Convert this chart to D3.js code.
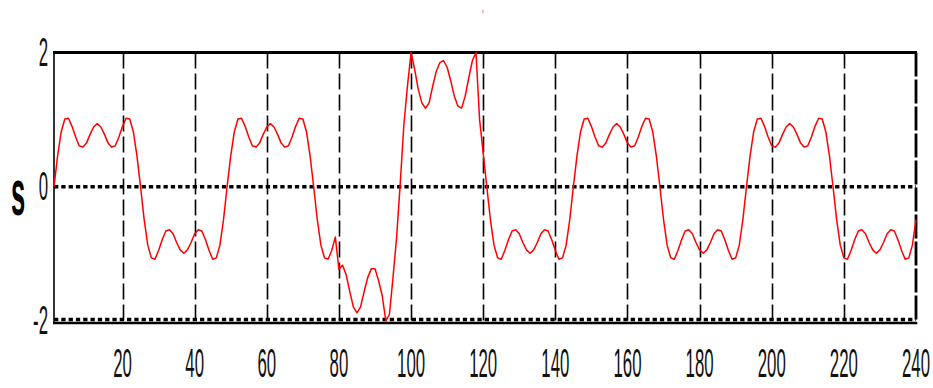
<!DOCTYPE html>
<html>
<head>
<meta charset="utf-8">
<script src="https://cdn.jsdelivr.net/npm/d3@7"></script>
<style>
  html, body { margin: 0; padding: 0; background: #ffffff; }
  svg { display: block; }
</style>
</head>
<body>
<svg id="chart" width="933" height="388"></svg>
<script>
// ---- data ----
const sVals = [
  // t = 1..24
  0, 0.46, 0.82, 1.01, 1.02, 0.90, 0.74, 0.61, 0.59, 0.65, 0.78, 0.89, 0.94, 0.89, 0.78, 0.65, 0.59, 0.61, 0.74, 0.90, 1.02, 1.01, 0.82, 0.46,
  // t = 25..48
  0, -0.49, -0.87, -1.06, -1.08, -0.95, -0.79, -0.66, -0.64, -0.70, -0.83, -0.94, -0.99, -0.94, -0.83, -0.70, -0.64, -0.66, -0.79, -0.95, -1.08, -1.06, -0.87, -0.49,
  // t = 49..72
  0, 0.46, 0.82, 1.01, 1.02, 0.90, 0.74, 0.61, 0.59, 0.65, 0.78, 0.89, 0.94, 0.89, 0.78, 0.65, 0.59, 0.61, 0.74, 0.90, 1.02, 1.01, 0.82, 0.46,
  // t = 73..96
  0, -0.49, -0.87, -1.06, -1.08, -0.95, -0.75, -1.23, -1.17, -1.31, -1.56, -1.79, -1.88, -1.79, -1.56, -1.35, -1.22, -1.22, -1.40, -1.62, -2.00, -1.90, -1.35, -0.75,
  // t = 97..120
  0.05, 0.92, 1.50, 2.00, 1.75, 1.45, 1.25, 1.17, 1.25, 1.50, 1.72, 1.85, 1.88, 1.78, 1.58, 1.35, 1.20, 1.17, 1.35, 1.62, 1.88, 2.00, 1.00, 0.50,
  // t = 121..144
  0, -0.49, -0.87, -1.06, -1.08, -0.95, -0.79, -0.66, -0.64, -0.70, -0.83, -0.94, -0.99, -0.94, -0.83, -0.70, -0.64, -0.66, -0.79, -0.95, -1.08, -1.06, -0.87, -0.49,
  // t = 145..168
  0, 0.46, 0.82, 1.01, 1.02, 0.90, 0.74, 0.61, 0.59, 0.65, 0.78, 0.89, 0.94, 0.89, 0.78, 0.65, 0.59, 0.61, 0.74, 0.90, 1.02, 1.01, 0.82, 0.46,
  // t = 169..192
  0, -0.49, -0.87, -1.06, -1.08, -0.95, -0.79, -0.66, -0.64, -0.70, -0.83, -0.94, -0.99, -0.94, -0.83, -0.70, -0.64, -0.66, -0.79, -0.95, -1.08, -1.06, -0.87, -0.49,
  // t = 193..216
  0, 0.46, 0.82, 1.01, 1.02, 0.90, 0.74, 0.61, 0.59, 0.65, 0.78, 0.89, 0.94, 0.89, 0.78, 0.65, 0.59, 0.61, 0.74, 0.90, 1.02, 1.01, 0.82, 0.46,
  // t = 217..240
  0, -0.49, -0.87, -1.06, -1.08, -0.95, -0.79, -0.66, -0.64, -0.70, -0.83, -0.94, -0.99, -0.94, -0.83, -0.70, -0.64, -0.66, -0.79, -0.95, -1.08, -1.06, -0.87, -0.49
];
const xDomain = [1, 240];
const yDomain = [-2, 2];
const xTickVals = [20, 40, 60, 80, 100, 120, 140, 160, 180, 200, 220, 240];
const yTickVals = [-2, 0, 2];
const yLabel = "s";
const titleText = "'";

// ---- drawing ----
const svg = d3.select("#chart");
const x = d3.scaleLinear().domain(xDomain).range([54, 916]);
const y = d3.scaleLinear().domain(yDomain).range([321, 52.5]);

const points = sVals.map((v, i) => ({ t: i + 1, s: v }));

// vertical dashed grid lines
svg.append("g").selectAll("line")
  .data(xTickVals.filter(v => v < xDomain[1]))
  .join("line")
  .attr("x1", d => Math.round(x(d)) + 0.5).attr("x2", d => Math.round(x(d)) + 0.5)
  .attr("y1", y(2)).attr("y2", y(-2))
  .attr("stroke", "#000").attr("stroke-width", 1.6)
  .attr("stroke-dasharray", "16,5");

// horizontal dotted grid line at 0 and -2
svg.append("g").selectAll("line")
  .data([0, -2])
  .join("line")
  .attr("x1", x(1)).attr("x2", x(240))
  .attr("y1", d => y(d) - (d === -2 ? 1.5 : 0)).attr("y2", d => y(d) - (d === -2 ? 1.5 : 0))
  .attr("stroke", "#000").attr("stroke-width", 3.5)
  .attr("stroke-dasharray", "4.3,3");

// frame
svg.append("line").attr("x1", x(1) - 1).attr("x2", x(240) + 1).attr("y1", y(2)).attr("y2", y(2))
  .attr("stroke", "#000").attr("stroke-width", 3.2);
svg.append("line").attr("x1", x(1) - 1).attr("x2", x(240) + 1).attr("y1", y(-2) + 2).attr("y2", y(-2) + 2)
  .attr("stroke", "#000").attr("stroke-width", 2.6);
svg.append("line").attr("x1", x(1)).attr("x2", x(1)).attr("y1", y(2)).attr("y2", y(-2) + 3)
  .attr("stroke", "#000").attr("stroke-width", 1.6);
svg.append("line").attr("x1", x(240)).attr("x2", x(240)).attr("y1", y(2)).attr("y2", y(-2) + 3)
  .attr("stroke", "#000").attr("stroke-width", 2.8)
  .attr("stroke-dasharray", "24,3");

// signal
const line = d3.line().x(d => x(d.t)).y(d => y(d.s));
svg.append("path").datum(points)
  .attr("d", line)
  .attr("fill", "none")
  .attr("stroke", "#ff0000")
  .attr("stroke-width", 1.5)
  .attr("stroke-linejoin", "round");

// tick labels (tall, narrow text as in the reference)
const fontFam = "'Liberation Sans', Arial, sans-serif";
svg.append("g").selectAll("text")
  .data(xTickVals)
  .join("text")
  .attr("transform", d => `translate(${x(d)},377) scale(0.42,1)`)
  .attr("text-anchor", "middle")
  .attr("font-family", fontFam)
  .attr("font-size", 40)
  .attr("fill", "#111")
  .text(d => d);

svg.append("g").selectAll("text")
  .data(yTickVals)
  .join("text")
  .attr("transform", d => `translate(48,${y(d) + 13}) scale(0.42,1)`)
  .attr("text-anchor", "end")
  .attr("font-family", fontFam)
  .attr("font-size", 40)
  .attr("fill", "#111")
  .text(d => d);

// y axis label
svg.append("text")
  .attr("transform", `translate(18,215) scale(0.4,1)`)
  .attr("text-anchor", "middle")
  .attr("font-family", fontFam)
  .attr("font-weight", "bold")
  .attr("font-size", 64)
  .attr("fill", "#000")
  .text(yLabel);

// tiny title mark
svg.append("text")
  .attr("transform", `translate(483,20) scale(0.5,1)`)
  .attr("text-anchor", "middle")
  .attr("font-family", fontFam)
  .attr("font-size", 14)
  .attr("fill", "#6a3d8a")
  .text(titleText);
</script>
</body>
</html>
